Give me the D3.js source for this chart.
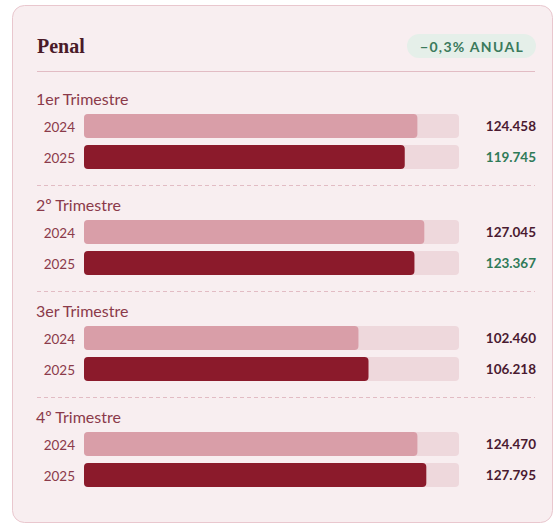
<!DOCTYPE html>
<html>
<head>
<meta charset="utf-8">
<script src="https://cdn.jsdelivr.net/npm/d3@7"></script>
<style>
  body { margin: 0; background: #ffffff; }
</style>
</head>
<body>
<div id="graph"></div>
<script>
// data
var quarters = ["1er Trimestre", "2º Trimestre", "3er Trimestre", "4º Trimestre"];
var years = ["2024", "2025"];
var values2024 = [124458, 127045, 102460, 124470];
var values2025 = [119745, 123367, 106218, 127795];
var title = "Penal";
var badge = "\u22120,3% ANUAL";

var width = 555, height = 524;

var svg = d3.select("#graph")
  .append("svg")
  .attr("width", width)
  .attr("height", height);

// card
svg.append("rect")
  .attr("x", 12.5).attr("y", 5.5)
  .attr("width", 540).attr("height", 517)
  .attr("rx", 12)
  .style("fill", "#f8eef0")
  .style("stroke", "#e9c7ce");

svg.append("text")
  .attr("x", 37).attr("y", 53)
  .text(title)
  .style("font-family", "'Liberation Serif', serif")
  .style("font-weight", "bold")
  .style("font-size", "20px")
  .style("fill", "#4a1a28");

// badge
svg.append("rect")
  .attr("x", 407).attr("y", 34)
  .attr("width", 129).attr("height", 24)
  .attr("rx", 12)
  .style("fill", "#e5efe9");
svg.append("text")
  .attr("x", 420).attr("y", 51.5)
  .text(badge)
  .style("font-family", "Lato, sans-serif")
  .style("font-weight", "bold")
  .style("font-size", "14px")
  .style("letter-spacing", "1.3px")
  .style("fill", "#3b7a5c");

svg.append("line")
  .attr("x1", 37).attr("x2", 535)
  .attr("y1", 71.5).attr("y2", 71.5)
  .style("stroke", "#e2bcc4");

var x = d3.scaleLinear().domain([0, 140000]).range([84, 459]);
var qy = d3.scalePoint().domain(quarters).range([0, 318]);
var fmt = function(v) { return d3.format(",")(v).replace(/,/g, "."); };

var g = svg.selectAll("g.quarter")
  .data(quarters.map(function(q, i) {
    return {name: q, v: [values2024[i], values2025[i]]};
  }))
  .enter().append("g")
  .attr("class", "quarter")
  .attr("transform", function(d) { return "translate(0," + qy(d.name) + ")"; });

g.append("text")
  .attr("x", 36).attr("y", 105)
  .text(function(d) { return d.name; })
  .style("font-family", "Lato, sans-serif")
  .style("font-size", "16px")
  .style("fill", "#8b3a4a");

// separators
g.filter(function(d, i) { return i < 3; })
  .append("line")
  .attr("x1", 37).attr("x2", 535)
  .attr("y1", 185.5).attr("y2", 185.5)
  .style("stroke", "#e2bcc4")
  .style("stroke-dasharray", "4,3");

var row = g.selectAll("g.row")
  .data(function(d) {
    return years.map(function(y, j) {
      return {year: y, value: d.v[j], j: j, prev: d.v[0]};
    });
  })
  .enter().append("g")
  .attr("class", "row")
  .attr("transform", function(d) { return "translate(0," + (114 + d.j * 31) + ")"; });

row.append("rect")
  .attr("x", x(0)).attr("y", 0)
  .attr("width", x(140000) - x(0)).attr("height", 24)
  .attr("rx", 4)
  .style("fill", "#eed8dc");

row.append("rect")
  .attr("x", x(0)).attr("y", 0)
  .attr("width", function(d) { return x(d.value) - x(0); })
  .attr("height", 24)
  .attr("rx", 4)
  .style("fill", function(d) { return d.j === 0 ? "#d99ea8" : "#8b1a2b"; });

row.append("text")
  .attr("x", 75).attr("y", 17.5)
  .attr("text-anchor", "end")
  .text(function(d) { return d.year; })
  .style("font-family", "Lato, sans-serif")
  .style("font-size", "13.5px")
  .style("fill", "#8b3a4a");

row.append("text")
  .attr("x", 536).attr("y", 17)
  .attr("text-anchor", "end")
  .text(function(d) { return fmt(d.value); })
  .style("font-family", "Lato, sans-serif")
  .style("font-weight", "bold")
  .style("font-size", "13.5px")
  .style("fill", function(d) {
    return (d.j === 1 && d.value < d.prev) ? "#2f7a58" : "#4a1a30";
  });
</script>
</body>
</html>
